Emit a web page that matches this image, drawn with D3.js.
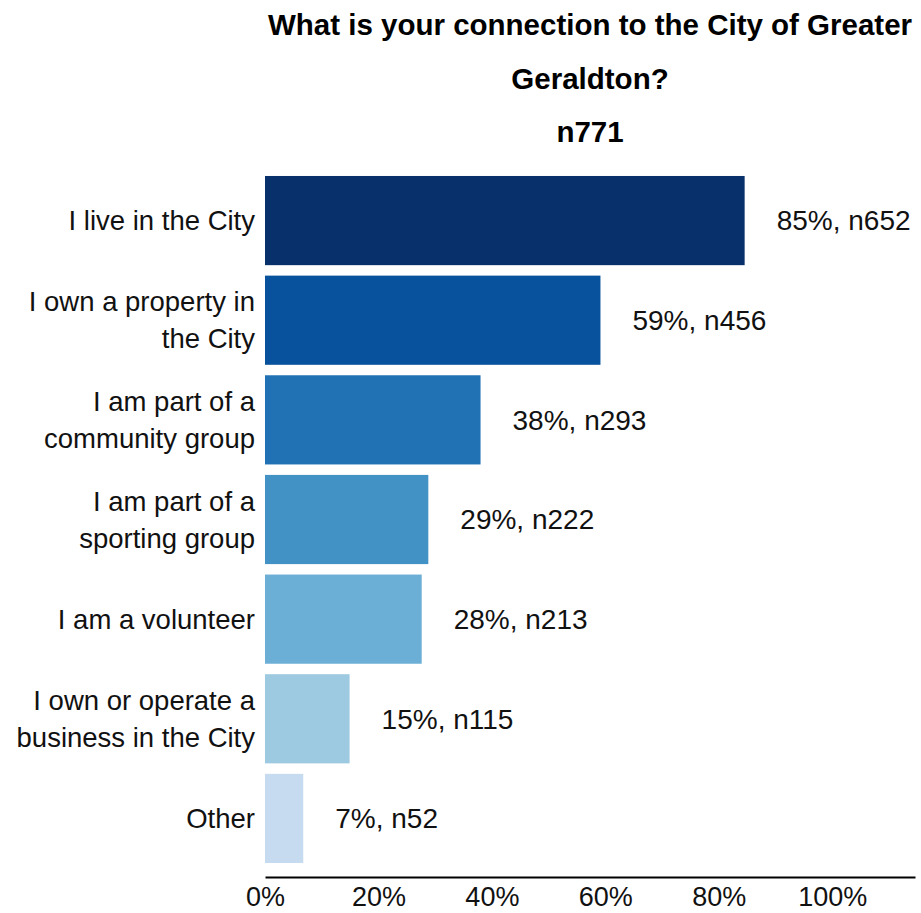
<!DOCTYPE html>
<html><head><meta charset="utf-8">
<script src="https://cdn.jsdelivr.net/npm/d3@7"></script>
<style>body{margin:0;background:#fff;}svg{display:block;font-family:"Liberation Sans",Arial,sans-serif;}</style>
</head><body>
<script>
const categories = ["I live in the City","I own a property in the City","I am part of a community group","I am part of a sporting group","I am a volunteer","I own or operate a business in the City","Other"];
const labelLines = [["I live in the City"],["I own a property in","the City"],["I am part of a","community group"],["I am part of a","sporting group"],["I am a volunteer"],["I own or operate a","business in the City"],["Other"]];
const counts = [652,456,293,222,213,115,52];
const total = 771;
const percents = [85,59,38,29,28,15,7];
const colors = ["#08306b","#08519c","#2171b5","#4292c6","#6baed6","#9ecae1","#c6dbef"];
const tickValues = [0,0.2,0.4,0.6,0.8,1.0];
const titleLines = ["What is your connection to the City of Greater","Geraldton?","n771"];

const W=921,H=913;
const svg=d3.select("body").append("svg").attr("width",W).attr("height",H);
const x=d3.scaleLinear().domain([0,1.146]).range([265,915]);
const y=d3.scaleBand().domain(categories).range([171,868]).paddingInner(0.105).paddingOuter(0.05);

svg.append("g").selectAll("text").data(titleLines).join("text")
  .attr("x",590).attr("y",(d,i)=>35+i*53.5).attr("text-anchor","middle")
  .attr("font-weight","bold").attr("font-size",29.5).attr("fill","#000").text(d=>d);

svg.append("g").selectAll("rect").data(categories).join("rect")
  .attr("x",x(0)).attr("y",d=>y(d)).attr("height",y.bandwidth())
  .attr("width",(d,i)=>x(counts[i]/total)-x(0)).attr("fill",(d,i)=>colors[i]);

svg.append("g").selectAll("text").data(categories).join("text")
  .attr("x",(d,i)=>x(counts[i]/total)+32).attr("y",d=>y(d)+y.bandwidth()/2)
  .attr("dy","0.35em").attr("font-size",28).attr("fill","#111")
  .text((d,i)=>percents[i]+"%, n"+counts[i]);

const lab=svg.append("g");
categories.forEach((c,i)=>{
  const lines=labelLines[i];
  const cy=y(c)+y.bandwidth()/2;
  const lh=37;
  lines.forEach((l,j)=>{
    lab.append("text").attr("x",255).attr("y",cy+(j-(lines.length-1)/2)*lh)
      .attr("dy","0.35em").attr("text-anchor","end").attr("font-size",27.5).attr("fill","#111").text(l);
  });
});

const ax=svg.append("g").attr("transform","translate(0,877)")
  .call(d3.axisBottom(x).tickValues(tickValues).tickSize(0).tickPadding(10).tickFormat(d3.format(".0%")));
ax.select(".domain").attr("stroke","#000").attr("stroke-width",2);
ax.selectAll("text").attr("font-size",27).attr("fill","#111").attr("font-family","'Liberation Sans',Arial,sans-serif");
</script>
</body></html>
